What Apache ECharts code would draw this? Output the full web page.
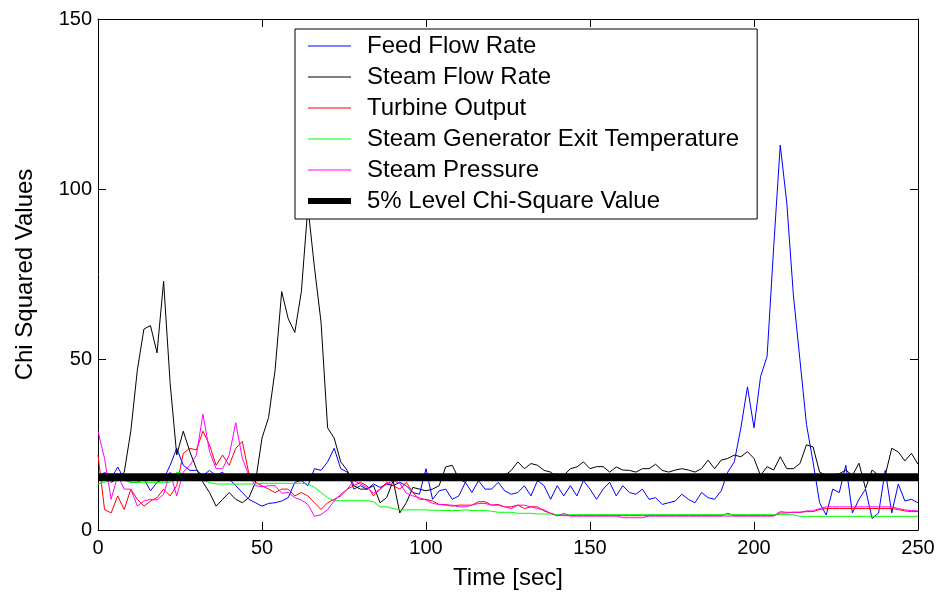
<!DOCTYPE html>
<html>
<head>
<meta charset="utf-8">
<script src="https://cdn.jsdelivr.net/npm/echarts@6/dist/echarts.min.js"></script>
<style>
html,body{margin:0;padding:0;background:#fff;}
#chart{width:941px;height:596px;}
</style>
</head>
<body>
<div id="chart"></div>
<script>
const times = [0,2,4,6,8,10,12,14,16,18,20,22,24,26,28,30,32,34,36,38,40,42,44,46,48,50,52,54,56,58,60,62,64,66,68,70,72,74,76,78,80,82,84,86,88,90,92,94,96,98,100,102,104,106,108,110,112,114,116,118,120,122,124,126,128,130,132,134,136,138,140,142,144,146,148,150,152,154,156,158,160,162,164,166,168,170,172,174,176,178,180,182,184,186,188,190,192,194,196,198,200,202,204,206,208,210,212,214,216,218,220,222,224,226,228,230,232,234,236,238,240,242,244,246,248,250];

const feedFlowRate = [15,17,15,18.5,15,14,14,15,11.5,14,
15,19,24,19,17.5,17.5,16,17.5,16,17,
15,13,11,9,8,7,7.8,8,8.5,9.5,
14,14.5,13,18,17.5,20,24,18,17,12,
13,12,13.5,12.5,13.5,13,14,13,11,10.5,
18,9,11.5,12,9,10,14,11,14.5,12,
12,14,11.5,10.5,11,13,10,14.5,13,9,
13,10,13,10,14.5,12,9,12,14,10,
13,11,10.5,12,9,9.5,7.5,8,8.5,10.5,
9,8,11,9.5,9,11.5,17,20,30,42,
30,45,51,83,113,96,69,50,31,20,
8,4.4,12,11,19,5,9,12,3.4,5,
17.5,5,13.5,8.5,9,8];

const steamFlowRate = [15,16,14,15,17,29,47,59,60,52,
73,43,22,29,23,18,14,11,7,9,
11,9,8,9.5,14,27,33,47,70,62,
58,70,95,77,61,30,27,20,17.5,13,
12,12,13,8,9.5,14.5,5,8,12.5,12,
11.5,12,13,18.5,19,15,14,16,15,14.5,
16,15,16,17.5,20,18,19.5,19,17.5,17,
15.5,16,18,18.5,20,18,18.6,18.6,17,18.5,
17.6,17.5,17,18,18,19.3,17.5,17,17.6,18,
17.6,17,18,20.5,18,20.5,21,22,21.5,23,
21,16,18.6,17.6,21.5,18,18,19.5,25,24.4,
17,16,16,16.5,17.6,16,19.6,12.2,17.6,16,
16,24,22.9,20.3,22.5,19.3];

const turbineOutput = [22,6,5,10,6,12,9,7,8.5,9.5,
12,10,13,22.5,24,23.5,29,25,19,22,
19,24,26,16.5,14,13,12,11,12,12,
10,11,10,8,6,8,9,10,12,13,
14,13,10,12,14,13,12,14,11,9,
9,8.5,7.5,7.5,7,7.3,7.3,7.3,8.3,8.3,
7.3,7.5,6.8,6.8,7.3,6.3,6.8,6.8,5.6,4.9,
4.4,4.2,4.2,4.2,4.2,4.2,4.2,4.2,4.2,4.2,
4.2,4.2,4.2,4.2,4.2,4.2,4.2,4.2,4.2,4.2,
4.2,4.2,4.2,4.2,4.2,4.2,4.9,4.2,4.2,4.2,
4.2,4.2,4.2,4.2,5,5,5.2,5.2,5.4,5.4,
6,6.3,6.3,6.3,6.3,6.3,6.3,6.3,6.3,6.3,
6.3,6.3,6,5.6,5.4,5.4];

const sgExitTemperature = [13.5,14,14.5,14.5,14.5,14,14,14,14,14,
14,14,17,16.5,14.5,14.5,14.5,14,13.5,13.5,
13.5,13.5,13.5,13.5,13.5,13.7,13.7,13.7,13.7,13.7,
13.7,13.7,13.5,12.5,11,9.5,8.6,8.6,8.6,8.6,
8.6,8.6,8.3,6.8,6.8,6.3,5.9,5.9,5.9,5.9,
5.9,5.8,5.8,5.7,5.7,5.7,5.9,5.7,5.7,5.7,
5.5,5.2,5.2,5.2,4.9,4.9,4.9,4.7,4.7,4.7,
4.5,4.5,4.5,4.5,4.5,4.5,4.5,4.5,4.5,4.5,
4.5,4.5,4.5,4.5,4.5,4.5,4.5,4.5,4.5,4.5,
4.5,4.5,4.5,4.5,4.5,4.5,4.5,4.5,4.5,4.5,
4.5,4.5,4.5,4.5,4.5,4.5,4.5,4,4,4,
4,4,4,4,4,4,4,4,4,4,
4,4,4,4,4,4];

const steamPressure = [29,21,9,16,12,12,7,8.5,9,8.8,
10.5,17,10,17,19,22,34,23,18,18,
22,31.5,21,16,13,12.7,13,13,10.8,11,
9.5,8.8,7.5,4,4.5,6,8.5,10.5,12,14.5,
13.5,12.5,10.8,12,13.5,14.5,13.7,10.8,10,9.5,
8.8,7.8,7.5,7.3,7.3,6.8,6.8,7.3,7.8,7.8,
7.3,7.3,6.8,6.3,7.3,7.3,6.8,6.3,5.9,4.9,
4.1,4.9,4.1,4.1,4.1,4.1,4.1,4.1,4.1,4.1,
3.6,3.6,3.6,3.6,4.1,4.1,4.1,4.1,4.1,4.1,
4.1,4.1,4.1,4.1,4.1,4.1,4.1,4.1,4.1,4.1,
4.1,4.1,4.1,4.1,5.4,5.2,5.2,5.2,5.6,5.6,
6.3,6.8,6.8,6.8,6.8,6.8,6.8,6.8,6.8,6.8,
6.8,6.8,6.3,5.9,5.7,5.6];

const chiLimitTimes = [0, 250];
const chiLimitValues = [15.5, 15.5];

const seriesNames = ['Feed Flow Rate','Steam Flow Rate','Turbine Output','Steam Generator Exit Temperature','Steam Pressure','5% Level Chi-Square Value'];
const seriesColors = ['#0000ff','#000000','#ff0000','#00ff00','#ff00ff','#000000'];

const pair = (xs, ys) => xs.map((x, i) => [x, ys[i]]);
const dataSets = [feedFlowRate, steamFlowRate, turbineOutput, sgExitTemperature, steamPressure];

const FONT = 'Liberation Sans, Arial, sans-serif';
const chart = echarts.init(document.getElementById('chart'), null, {renderer:'canvas'});

const series = dataSets.map((d, i) => ({
  name: seriesNames[i], type: 'line', data: pair(times, d),
  symbol: 'none', showSymbol: false,
  lineStyle: {color: seriesColors[i], width: 1}, itemStyle: {color: seriesColors[i]},
  emphasis: {disabled: true}
}));
series.push({
  name: seriesNames[5], type: 'line', data: pair(chiLimitTimes, chiLimitValues),
  symbol: 'none', showSymbol: false,
  lineStyle: {color: '#000', width: 8}, itemStyle: {color: '#000'},
  emphasis: {disabled: true}
});

const thinIcon = 'path://M0 0h0.01v14h-0.01z M0 6.5h43v1h-43z';
const thickIcon = 'path://M0 0h0.01v14h-0.01z M0 4h43v6h-43z';

const axisCommon = {
  axisLine: {show: true, onZero: false, lineStyle: {color: '#000', width: 1}},
  axisTick: {show: true, inside: true, length: 8, lineStyle: {color: '#000', width: 1}},
  splitLine: {show: false}
};

chart.setOption({
  animation: false,
  backgroundColor: '#fff',
  grid: {left: 98, right: 23, top: 19, bottom: 66, containLabel: false},
  legend: {
    orient: 'vertical', left: 295, top: 29,
    data: seriesNames.map((n, i) => ({name: n, icon: i === 5 ? thickIcon : thinIcon, itemStyle: {color: seriesColors[i]}})),
    backgroundColor: '#fff', borderColor: '#000', borderWidth: 1,
    padding: [5, 18, 6, 13],
    itemWidth: 43, itemHeight: 14, itemGap: 7,
    textStyle: {fontFamily: FONT, fontSize: 24, color: '#000', lineHeight: 24, padding: [0,0,0,11]},
    selectedMode: false
  },
  xAxis: [
    Object.assign({}, axisCommon, {
      type: 'value', min: 0, max: 250, interval: 50, position: 'bottom',
      axisLabel: {color: '#000', fontSize: 20, fontFamily: FONT, margin: 8},
      name: 'Time [sec]', nameLocation: 'middle', nameGap: 36,
      nameTextStyle: {fontSize: 24, fontFamily: FONT, color: '#000'}
    }),
    Object.assign({}, axisCommon, {
      type: 'value', min: 0, max: 250, interval: 50, position: 'top',
      axisLabel: {show: false}
    })
  ],
  yAxis: [
    Object.assign({}, axisCommon, {
      type: 'value', min: 0, max: 150, interval: 50, position: 'left',
      axisLabel: {color: '#000', fontSize: 20, fontFamily: FONT, margin: 6},
      name: 'Chi Squared Values', nameLocation: 'middle', nameGap: 61,
      nameTextStyle: {fontSize: 24, fontFamily: FONT, color: '#000'}
    }),
    Object.assign({}, axisCommon, {
      type: 'value', min: 0, max: 150, interval: 50, position: 'right',
      axisLabel: {show: false}
    })
  ],
  series: series
});
</script>
</body>
</html>
